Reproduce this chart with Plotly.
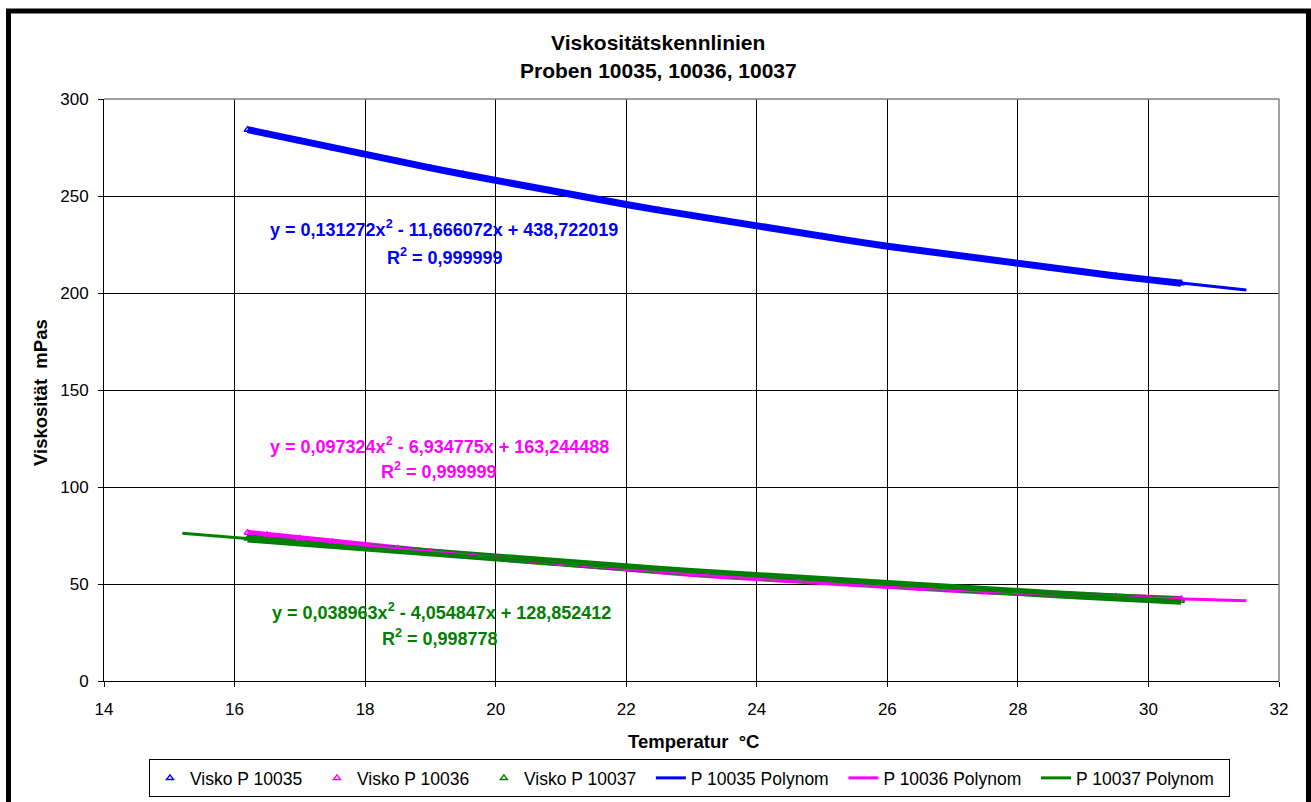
import numpy as np
import plotly.graph_objects as go

# ---------------- data ----------------
temp = [16.2, 16.5, 17.0, 17.5, 18.0, 18.5, 19.0, 19.5, 20.0, 20.5, 21.0, 21.5,
        22.0, 22.5, 23.0, 23.5, 24.0, 24.5, 25.0, 25.5, 26.0, 26.5, 27.0, 27.5,
        28.0, 28.5, 29.0, 29.5, 30.0, 30.5]

visko_10035 = [284.2, 282.0, 278.3, 274.8, 271.3, 267.8, 264.5, 261.2, 257.9, 254.7,
               251.6, 248.6, 245.6, 242.7, 239.9, 237.1, 234.4, 231.7, 229.1, 226.6,
               224.1, 221.8, 219.4, 217.2, 215.0, 212.9, 210.8, 208.8, 206.9, 205.0]
visko_10036 = [76.4, 75.3, 73.5, 71.7, 70.0, 68.3, 66.6, 65.0, 63.5, 62.0,
               60.5, 59.1, 57.8, 56.5, 55.2, 54.0, 52.9, 51.8, 50.7, 49.7,
               48.7, 47.8, 47.0, 46.1, 45.4, 44.7, 44.0, 43.4, 42.8, 42.3]
visko_10037 = [73.4, 72.6, 71.2, 69.8, 68.5, 67.2, 65.9, 64.6, 63.3, 62.1,
               60.9, 59.7, 58.5, 57.3, 56.2, 55.1, 54.0, 52.9, 51.8, 50.8,
               49.8, 48.8, 47.8, 46.8, 45.9, 44.9, 44.0, 43.1, 42.3, 41.4]

# polynomial trendline coefficients (as printed in the chart)
coef_10035 = [0.131272, -11.666072, 438.722019]
coef_10036 = [0.097324, -6.934775, 163.244488]
coef_10037 = [0.038963, -4.054847, 128.852412]
# trendline x-ranges (forecast forward / backward as drawn)
range_10035 = [16.2, 31.5]
range_10036 = [16.2, 31.5]
range_10037 = [15.2, 30.5]

r2_10035 = "0,999999"
r2_10036 = "0,999999"
r2_10037 = "0,998778"

names_data = ["Visko P 10035", "Visko P 10036", "Visko P 10037"]
names_fit = ["P 10035 Polynom", "P 10036 Polynom", "P 10037 Polynom"]

x_ticks = [14, 16, 18, 20, 22, 24, 26, 28, 30, 32]
y_ticks = [0, 50, 100, 150, 200, 250, 300]

# ---------------- styling ----------------
BLUE = "#0000FF"
PINK = "#FF00FF"
GREEN = "#008000"
FONT = "Liberation Sans, Arial, sans-serif"
PAD = "\u00a0\u00a0"  # legend spacing

series = [
    (visko_10035, BLUE, 7),
    (visko_10036, PINK, 6),
    (visko_10037, GREEN, 8),
]

fig = go.Figure()

# dense measurement bands (markers packed tightly in the original)
for vals, col, w in series:
    fig.add_trace(go.Scatter(x=temp, y=vals, mode="lines", showlegend=False,
                             line=dict(color=col, width=w), hoverinfo="skip"))

# data series (legend entries with triangle markers)
for (vals, col, w), nm in zip(series, names_data):
    fig.add_trace(go.Scatter(x=temp, y=vals, mode="markers", name=nm + PAD,
                             marker=dict(symbol="triangle-up-open", size=6, color=col,
                                         line=dict(color=col, width=1.5))))

# polynomial trendlines
for coef, rng, col, nm in [(coef_10035, range_10035, BLUE, names_fit[0]),
                           (coef_10036, range_10036, PINK, names_fit[1]),
                           (coef_10037, range_10037, GREEN, names_fit[2])]:
    xf = np.linspace(rng[0], rng[1], 80)
    yf = np.polyval(coef, xf)
    fig.add_trace(go.Scatter(x=xf, y=yf, mode="lines", name=nm + PAD,
                             line=dict(color=col, width=3)))


def fmt(v):
    return f"{abs(v):.6f}".replace(".", ",")


def eq_text(c):
    s1 = "-" if c[1] < 0 else "+"
    s2 = "-" if c[2] < 0 else "+"
    return f"<b>y = {fmt(c[0])}x<sup>2</sup> {s1} {fmt(c[1])}x {s2} {fmt(c[2])}</b>"


# pixel -> paper helpers (plot area 104..1279 x 99..681)
L, R, T, B = 104, 1279, 99, 681


def px(x):
    return (x - L) / (R - L)


def py(y):
    return (B - y) / (B - T)


annotations = []
for c, r2, col, (ex, ey), (rx, ry) in [
    (coef_10035, r2_10035, BLUE, (443.5, 228), (444.5, 256)),
    (coef_10036, r2_10036, PINK, (439.5, 445), (439, 470)),
    (coef_10037, r2_10037, GREEN, (441, 611), (440, 637)),
]:
    annotations.append(dict(x=px(ex), y=py(ey), xref="paper", yref="paper",
                            text=eq_text(c), showarrow=False,
                            font=dict(family=FONT, size=18, color=col),
                            xanchor="center", yanchor="middle"))
    annotations.append(dict(x=px(rx), y=py(ry), xref="paper", yref="paper",
                            text=f"<b>R<sup>2</sup> = {r2}</b>", showarrow=False,
                            font=dict(family=FONT, size=18, color=col),
                            xanchor="center", yanchor="middle"))

# title
annotations.append(dict(x=px(658), y=py(43), xref="paper", yref="paper",
                        text="<b>Viskositätskennlinien</b>", showarrow=False,
                        font=dict(family=FONT, size=21, color="black"),
                        xanchor="center", yanchor="middle"))
annotations.append(dict(x=px(658), y=py(71), xref="paper", yref="paper",
                        text="<b>Proben 10035, 10036, 10037</b>", showarrow=False,
                        font=dict(family=FONT, size=21, color="black"),
                        xanchor="center", yanchor="middle"))
# axis titles
annotations.append(dict(x=px(40), y=py(393), xref="paper", yref="paper",
                        text="<b>Viskosität  mPas</b>", showarrow=False, textangle=-90,
                        font=dict(family=FONT, size=18.5, color="black"),
                        xanchor="center", yanchor="middle"))
annotations.append(dict(x=px(693), y=py(741), xref="paper", yref="paper",
                        text="<b>Temperatur  °C</b>", showarrow=False,
                        font=dict(family=FONT, size=18.5, color="black"),
                        xanchor="center", yanchor="middle"))

shapes = [
    # outer chart frame
    dict(type="rect", xref="paper", yref="paper",
         x0=px(8.5), x1=px(1308.5), y0=py(860), y1=py(11),
         line=dict(color="black", width=5), layer="above"),
    # plot area border (top / right, gray)
    dict(type="line", xref="paper", yref="paper", x0=0, x1=1, y0=1, y1=1,
         line=dict(color="#808080", width=1.5), layer="above"),
    dict(type="line", xref="paper", yref="paper", x0=1, x1=1, y0=0, y1=1,
         line=dict(color="#808080", width=1.5), layer="above"),
]

fig.update_layout(
    width=1311, height=802,
    margin=dict(l=L, r=1311 - R, t=T, b=802 - B, autoexpand=False),
    paper_bgcolor="white", plot_bgcolor="white",
    font=dict(family=FONT, size=17, color="black"),
    showlegend=True,
    legend=dict(orientation="h", x=px(149), y=py(759), xanchor="left", yanchor="top",
                bordercolor="black", borderwidth=1, bgcolor="white",
                font=dict(family=FONT, size=17.5, color="black"),
                itemsizing="trace", tracegroupgap=0),
    annotations=annotations,
    shapes=shapes,
    xaxis=dict(range=[14, 32], tickvals=x_ticks, ticktext=[str(v) for v in x_ticks],
               showgrid=True, gridcolor="black", gridwidth=1,
               showline=True, linecolor="black", linewidth=1,
               ticks="outside", ticklen=5, tickcolor="black",
               ticklabelstandoff=8, zeroline=False, automargin=False,
               tickfont=dict(family=FONT, size=17, color="black")),
    yaxis=dict(range=[0, 300], tickvals=y_ticks, ticktext=[str(v) for v in y_ticks],
               showgrid=True, gridcolor="black", gridwidth=1,
               showline=True, linecolor="black", linewidth=1,
               ticks="outside", ticklen=5, tickcolor="black",
               ticklabelstandoff=6, zeroline=False, automargin=False,
               tickfont=dict(family=FONT, size=17, color="black")),
)

fig.write_html("out.html")
